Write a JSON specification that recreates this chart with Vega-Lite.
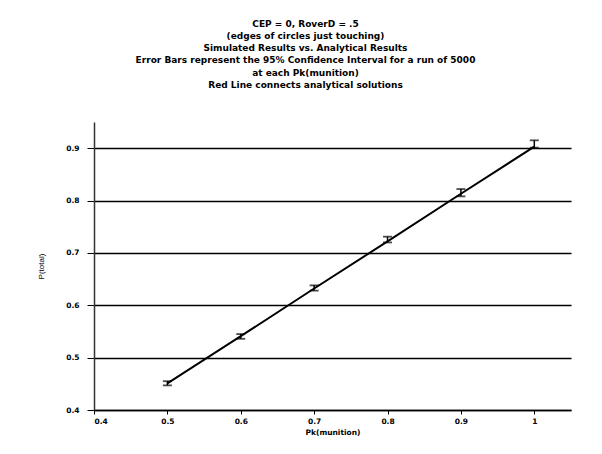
{
  "$schema": "https://vega.github.io/schema/vega-lite/v6.json",
  "width": 477,
  "height": 288,
  "autosize": {"type": "none"},
  "padding": {"left": 94, "top": 122, "right": 31, "bottom": 44},
  "background": "white",
  "title": {
    "text": ["CEP = 0, RoverD = .5", "(edges of circles just touching)", "Simulated Results vs. Analytical Results", "Error Bars represent the 95% Confidence Interval for a run of 5000", "at each Pk(munition)", "Red Line connects analytical solutions"],
    "font": "DejaVu Sans",
    "fontSize": 9,
    "fontWeight": "bold",
    "lineHeight": 12.3,
    "color": "black",
    "anchor": "middle",
    "dx": -27,
    "offset": 32
  },
  "data": {
    "values": [
      {"pk": 0.5, "sim": 0.451, "lo": 0.447, "hi": 0.455, "analytical": 0.451},
      {"pk": 0.6, "sim": 0.540, "lo": 0.536, "hi": 0.545, "analytical": 0.541},
      {"pk": 0.7, "sim": 0.633, "lo": 0.628, "hi": 0.638, "analytical": 0.632},
      {"pk": 0.8, "sim": 0.725, "lo": 0.720, "hi": 0.731, "analytical": 0.722},
      {"pk": 0.9, "sim": 0.815, "lo": 0.808, "hi": 0.822, "analytical": 0.813},
      {"pk": 1.0, "sim": 0.908, "lo": 0.901, "hi": 0.915, "analytical": 0.903}
    ]
  },
  "encoding": {
    "x": {
      "field": "pk",
      "type": "quantitative",
      "scale": {"domain": [0.4, 1.05], "nice": false, "zero": false},
      "axis": {
        "title": "Pk(munition)",
        "values": [0.4, 0.5, 0.6, 0.7, 0.8, 0.9, 1],
        "format": "~g",
        "grid": false,
        "domainColor": "black",
        "domainWidth": 1.5,
        "tickColor": "black",
        "tickSize": 4,
        "labelFont": "DejaVu Sans",
        "labelFontSize": 7.5,
        "labelFontWeight": "bold",
        "labelColor": "black",
        "labelPadding": 3,
        "titleFont": "DejaVu Sans",
        "titleFontSize": 7.5,
        "titleFontWeight": "bold",
        "titleColor": "black",
        "titlePadding": 4
      }
    }
  },
  "layer": [
    {
      "mark": {"type": "line", "color": "black", "strokeWidth": 2},
      "encoding": {
        "y": {
          "field": "analytical",
          "type": "quantitative",
          "scale": {"domain": [0.4, 0.95], "nice": false, "zero": false},
          "axis": {
            "title": "P(total)",
            "values": [0.4, 0.5, 0.6, 0.7, 0.8, 0.9],
            "format": ".1f",
            "grid": true,
            "gridColor": "black",
            "gridWidth": 1.5,
            "gridOpacity": 1,
            "domainColor": "#333333",
            "domainWidth": 1.5,
            "tickColor": "black",
            "tickSize": 7,
            "labelFont": "DejaVu Sans",
            "labelFontSize": 7.5,
            "labelFontWeight": "bold",
            "labelColor": "black",
            "labelPadding": 8,
            "titleFont": "Liberation Sans",
            "titleFontSize": 8,
            "titleFontWeight": "normal",
            "titleColor": "black",
            "titlePadding": 20
          }
        }
      }
    },
    {
      "mark": {"type": "rule", "color": "black", "strokeWidth": 1.5},
      "encoding": {
        "y": {"field": "lo", "type": "quantitative"},
        "y2": {"field": "hi"}
      }
    },
    {
      "mark": {"type": "tick", "orient": "horizontal", "color": "black", "size": 9, "thickness": 1.8},
      "encoding": {
        "y": {"field": "lo", "type": "quantitative"}
      }
    },
    {
      "mark": {"type": "tick", "orient": "horizontal", "color": "black", "size": 9, "thickness": 1.8},
      "encoding": {
        "y": {"field": "hi", "type": "quantitative"}
      }
    }
  ],
  "config": {
    "view": {"stroke": null}
  }
}
